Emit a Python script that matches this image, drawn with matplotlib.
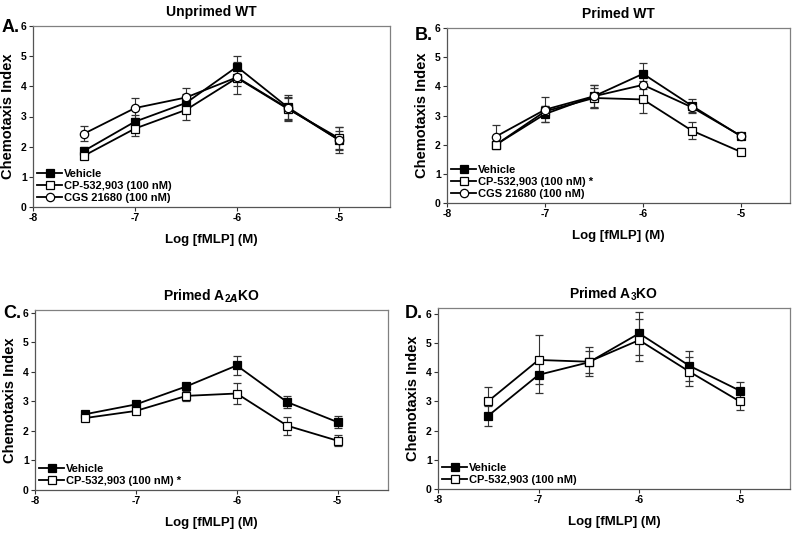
import matplotlib
matplotlib.use("Agg")
import matplotlib.pyplot as plt

plt.rcParams["font.family"] = ["Liberation Sans", "DejaVu Sans"]
plt.rcParams["font.weight"] = "bold"
plt.rcParams["mathtext.fontset"] = "custom"
plt.rcParams["mathtext.rm"] = "Liberation Sans:bold"
plt.rcParams["mathtext.bf"] = "Liberation Sans:bold"

log_fmlp = [-7.5, -7.0, -6.5, -6.0, -5.5, -5.0]

# Panel A - Unprimed WT
a_vehicle = [1.86, 2.83, 3.45, 4.65, 3.30, 2.22]
a_vehicle_err = [0.12, 0.22, 0.30, 0.37, 0.42, 0.30]
a_cp = [1.70, 2.60, 3.22, 4.28, 3.25, 2.28]
a_cp_err = [0.10, 0.24, 0.32, 0.52, 0.40, 0.38]
a_cgs = [2.43, 3.28, 3.63, 4.30, 3.27, 2.22]
a_cgs_err = [0.25, 0.32, 0.30, 0.28, 0.35, 0.42]

# Panel B - Primed WT
b_vehicle = [2.00, 3.05, 3.66, 4.43, 3.33, 2.29]
b_vehicle_err = [0.10, 0.27, 0.38, 0.37, 0.24, 0.10]
b_cp = [2.00, 3.14, 3.60, 3.55, 2.48, 1.75]
b_cp_err = [0.10, 0.20, 0.35, 0.46, 0.30, 0.12]
b_cgs = [2.28, 3.20, 3.66, 4.05, 3.28, 2.30]
b_cgs_err = [0.40, 0.43, 0.40, 0.15, 0.15, 0.10]

# Panel C - Primed A2A KO
c_vehicle = [2.57, 2.90, 3.51, 4.22, 2.98, 2.30]
c_vehicle_err = [0.10, 0.08, 0.08, 0.32, 0.21, 0.20]
c_cp = [2.44, 2.68, 3.19, 3.27, 2.18, 1.67]
c_cp_err = [0.10, 0.08, 0.18, 0.35, 0.30, 0.18]

# Panel D - Primed A3 KO
d_vehicle = [2.51, 3.91, 4.34, 5.33, 4.22, 3.37]
d_vehicle_err = [0.35, 0.62, 0.37, 0.75, 0.52, 0.30]
d_cp = [3.01, 4.42, 4.36, 5.10, 4.02, 3.00]
d_cp_err = [0.49, 0.84, 0.50, 0.72, 0.50, 0.30]

vehicle_label = "Vehicle"
cp_label = "CP-532,903 (100 nM)"
cgs_label = "CGS 21680 (100 nM)"

W, H = 800, 533
fig = plt.figure(figsize=(W / 100, H / 100), dpi=100)


def px_rect(left, top, right, bottom):
    return [left / W, 1 - bottom / H, (right - left) / W, (bottom - top) / H]


panels = [
    # (left, top, right, bottom) px, title, letter, letter pos px, ylim top, series
    ((33, 26, 390, 207), "Unprimed WT", "A.", (20, 28), 6.0,
     [(a_vehicle, a_vehicle_err, "s", "black", vehicle_label),
      (a_cp, a_cp_err, "s", "white", cp_label),
      (a_cgs, a_cgs_err, "o", "white", cgs_label)]),
    ((447, 28, 790, 203), "Primed WT", "B.", (433, 35), 6.0,
     [(b_vehicle, b_vehicle_err, "s", "black", vehicle_label),
      (b_cp, b_cp_err, "s", "white", cp_label + " *"),
      (b_cgs, b_cgs_err, "o", "white", cgs_label)]),
    ((35, 310, 388, 490), r"Primed A$_{2A}$KO", "C.", (21, 313), 6.1,
     [(c_vehicle, c_vehicle_err, "s", "black", vehicle_label),
      (c_cp, c_cp_err, "s", "white", cp_label + " *")]),
    ((438, 308, 790, 489), r"Primed A$_3$KO", "D.", (423, 313), 6.2,
     [(d_vehicle, d_vehicle_err, "s", "black", vehicle_label),
      (d_cp, d_cp_err, "s", "white", cp_label)]),
]

for box, title, letter, lpos, ytop, series in panels:
    ax = fig.add_axes(px_rect(*box))
    for vals, errs, marker, face, label in series:
        ax.errorbar(log_fmlp, vals, yerr=errs, color="black", lw=1.3,
                    marker=marker, markersize=6, markerfacecolor=face,
                    markeredgecolor="black", markeredgewidth=0.9,
                    ecolor="#333333", elinewidth=0.8, capsize=2.8,
                    capthick=0.8, label=label)
    ax.set_xlim(-8, -4.5)
    ax.set_ylim(0, ytop)
    ax.set_xticks([-8, -7, -6, -5])
    ax.set_xticklabels(["-8", "-7", "-6", "-5"])
    ax.set_yticks(range(0, 7))
    ax.tick_params(labelsize=7.5, length=3, width=0.8, direction="out", pad=1.5,
                   color="#333333")
    for lbl in ax.get_xticklabels() + ax.get_yticklabels():
        lbl.set_fontweight("bold")
    for s in ax.spines.values():
        s.set_color("#808080")
        s.set_linewidth(0.9)
    ax.spines["left"].set_color("#555555")
    ax.spines["bottom"].set_color("#555555")
    ax.set_title(title, fontsize=10, fontweight="bold", pad=7)
    ax.set_xlabel("Log [fMLP] (M)", fontsize=9.5, fontweight="bold", labelpad=8)
    ax.set_ylabel("Chemotaxis Index", fontsize=10.5, fontweight="bold", labelpad=4)
    handles, labels = ax.get_legend_handles_labels()
    handles = [h[0] for h in handles]
    ax.legend(handles, labels, loc="lower left", frameon=False,
              prop={"weight": "bold", "size": 8},
              handlelength=2.2, handletextpad=0.2, labelspacing=0.15,
              borderaxespad=0.2, borderpad=0.2)
    fig.text(lpos[0] / W, 1 - lpos[1] / H, letter, fontsize=13,
             fontweight="bold", ha="right", va="center")

fig.savefig("out.png", dpi=100)
